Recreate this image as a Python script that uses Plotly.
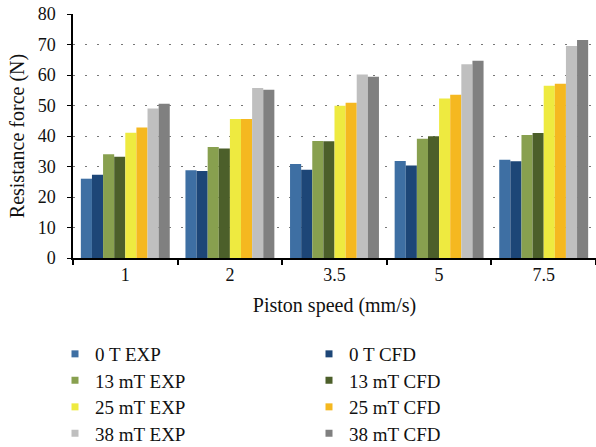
import plotly.graph_objects as go

speeds = ["1", "2", "3.5", "5", "7.5"]
series_names = ["0 T EXP", "0 T CFD", "13 mT EXP", "13 mT CFD",
                "25 mT EXP", "25 mT CFD", "38 mT EXP", "38 mT CFD"]
v_0T_exp = [26.0, 28.8, 30.8, 31.8, 32.2]
v_0T_cfd = [27.3, 28.5, 28.9, 30.3, 31.7]
v_13_exp = [34.0, 36.4, 38.4, 39.1, 40.3]
v_13_cfd = [33.2, 35.9, 38.3, 39.9, 41.0]
v_25_exp = [41.1, 45.6, 49.9, 52.3, 56.5]
v_25_cfd = [42.8, 45.6, 50.9, 53.5, 57.1]
v_38_exp = [49.0, 55.7, 60.2, 63.5, 69.5]
v_38_cfd = [50.6, 55.2, 59.4, 64.7, 71.5]
values = [v_0T_exp, v_0T_cfd, v_13_exp, v_13_cfd, v_25_exp, v_25_cfd, v_38_exp, v_38_cfd]
colors = ["#3e6fa3", "#1d4677", "#88a04f", "#4c5f2a",
          "#eeea40", "#f5b820", "#bfbfbf", "#808080"]
y_ticks = [0, 10, 20, 30, 40, 50, 60, 70, 80]

FONT = "Liberation Serif"
W, H = 596, 447

fig = go.Figure()
for name, vals, col in zip(series_names, values, colors):
    fig.add_trace(go.Bar(x=speeds, y=vals, name=name, marker=dict(color=col, line=dict(width=0)),
                         showlegend=False))

# legend entries: 4 rows, 2 columns
row_y = [354, 380.5, 407, 433.5]
legend_layouts = {}
for i, name in enumerate(series_names):
    row = i // 2
    lname = "legend" if row == 0 else f"legend{row + 1}"
    fig.add_trace(go.Scatter(x=[None], y=[None], mode="markers", name=name,
                             marker=dict(symbol="square", size=7, color=colors[i]),
                             legend=lname, showlegend=True))
    legend_layouts[lname] = dict(
        orientation="h", xref="container", yref="container",
        x=55 / W, xanchor="left", y=1 - row_y[row] / H, yanchor="middle",
        entrywidth=209, entrywidthmode="pixels",
        font=dict(family=FONT, size=19, color="#111"),
        bgcolor="rgba(0,0,0,0)", borderwidth=0, itemclick=False,
    )

fig.update_layout(
    width=W, height=H,
    margin=dict(l=73, r=0, t=14, b=189),
    paper_bgcolor="white", plot_bgcolor="white",
    barmode="group", bargap=0.15, bargroupgap=0,
    font=dict(family=FONT, size=18, color="#111"),
    **legend_layouts,
)
fig.update_xaxes(
    type="category", showline=True, linecolor="black", linewidth=1.5,
    ticks="outside", tickson="boundaries", ticklen=5, tickcolor="black", tickwidth=1.5,
    showgrid=False, tickfont=dict(family=FONT, size=18),
    title=dict(text="Piston speed (mm/s)", font=dict(family=FONT, size=20), standoff=14),
)
fig.update_yaxes(
    range=[0, 80], tickvals=y_ticks, showline=True, linecolor="black", linewidth=1.5,
    ticks="outside", ticklen=4, tickcolor="black", tickwidth=1,
    showgrid=True, gridcolor="#777", gridwidth=1, griddash="2px,10px",
    zeroline=False, tickfont=dict(family=FONT, size=18), ticklabelstandoff=8,
    title=dict(text="Resistance force (N)", font=dict(family=FONT, size=20), standoff=8),
)

fig.write_html("out.html")
